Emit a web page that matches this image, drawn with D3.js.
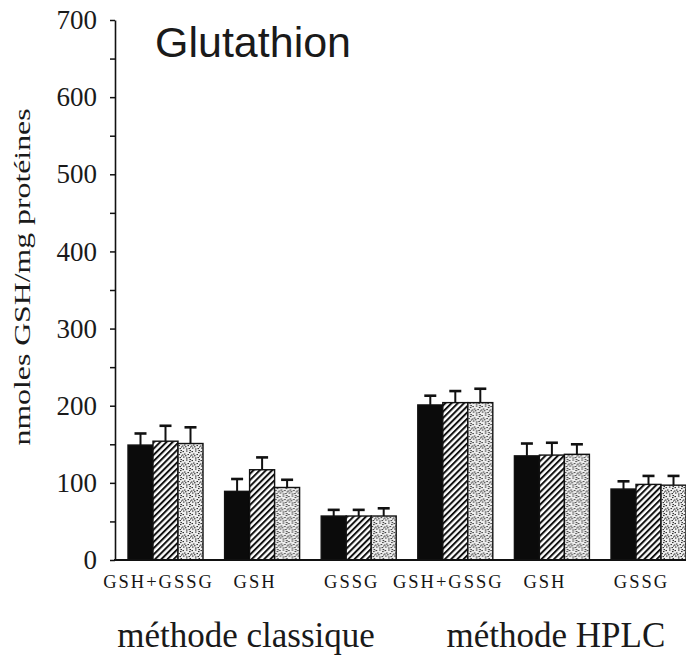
<!DOCTYPE html>
<html>
<head>
<meta charset="utf-8">
<script src="https://cdn.jsdelivr.net/npm/d3@7"></script>
<style>
  body { margin: 0; background: #fff; }
  svg { display: block; }
</style>
</head>
<body>
<svg id="chart" width="686" height="659"></svg>
<script>
// data (nmoles GSH / mg protéines)
const categories = ["GSH+GSSG", "GSH", "GSSG", "GSH+GSSG", "GSH", "GSSG"];
const groupMethod = [0, 0, 0, 1, 1, 1];
const methods = ["méthode classique", "méthode HPLC"];
const seriesNames = ["noir", "hachuré", "pointillé"];

const meanNoir = [149, 89, 57, 201, 135, 92];
const errNoir = [15, 16, 8, 12, 16, 10];
const meanHach = [154, 117, 57, 204, 136, 98];
const errHach = [20, 16, 8, 15, 16, 11];
const meanPoint = [151, 94, 57, 204, 137, 97];
const errPoint = [21, 10, 10, 18, 13, 12];

const yTicks = [0, 50, 100, 150, 200, 250, 300, 350, 400, 450, 500, 550, 600, 650, 700];

const means = [meanNoir, meanHach, meanPoint];
const errs = [errNoir, errHach, errPoint];

const svg = d3.select("#chart");
const defs = svg.append("defs");

// hatch "/" pattern
const hatch = defs.append("pattern")
  .attr("id", "hatch")
  .attr("patternUnits", "userSpaceOnUse")
  .attr("width", 4.4).attr("height", 4.4)
  .attr("patternTransform", "rotate(45)");
hatch.append("rect").attr("width", 4.4).attr("height", 4.4).attr("fill", "#fff");
hatch.append("rect").attr("width", 2).attr("height", 4.4).attr("fill", "#111");

// stipple pattern, fixed dot layout
const stip = defs.append("pattern")
  .attr("id", "stipple")
  .attr("patternUnits", "userSpaceOnUse")
  .attr("width", 9).attr("height", 9);
stip.append("rect").attr("width", 9).attr("height", 9).attr("fill", "#eeeeee");
const dots = [[0.5,1],[4,0.5],[7,2],[2,3.5],[5.5,4],[8,5.5],[1,6.5],[4,7.5],[6.5,7],[3,5.2],[7.5,0],[0,4.5]];
stip.selectAll("rect.d").data(dots).enter().append("rect")
  .attr("class", "d")
  .attr("x", d => d[0]).attr("y", d => d[1])
  .attr("width", 1.5).attr("height", 1.1)
  .attr("fill", "#333");

const fills = ["#0b0b0b", "url(#hatch)", "url(#stipple)"];

const y = d3.scaleLinear().domain([0, 700]).range([560, 20]);
const x = d3.scaleBand().domain(d3.range(categories.length)).range([128, 686]).paddingInner(0.2236);
const xs = d3.scaleBand().domain(d3.range(seriesNames.length)).range([0, x.bandwidth()]);

// y axis
const yAxis = svg.append("g")
  .attr("transform", "translate(115,0)")
  .call(d3.axisLeft(y).tickValues(yTicks)
    .tickFormat(d => d % 100 === 0 ? d : "")
    .tickSize(5).tickSizeOuter(0).tickPadding(13));
yAxis.select(".domain").attr("stroke", "#111").attr("stroke-width", 1.6);
yAxis.selectAll(".tick line").attr("stroke", "#111").attr("stroke-width", 1.5);
yAxis.selectAll(".tick text")
  .attr("fill", "#1a1a1a")
  .style("font-family", "'Liberation Serif', 'Times New Roman', serif")
  .style("font-size", "27px");

// bars
const groups = svg.append("g").selectAll("g.grp")
  .data(categories.map((c, i) => i))
  .enter().append("g")
  .attr("class", "grp")
  .attr("transform", i => `translate(${x(i)},0)`);

seriesNames.forEach((s, k) => {
  groups.append("rect")
    .attr("x", xs(k))
    .attr("y", i => y(means[k][i]))
    .attr("width", xs.bandwidth())
    .attr("height", i => y(0) - y(means[k][i]))
    .attr("fill", fills[k])
    .attr("stroke", "#111")
    .attr("stroke-width", 1.4);

  // error bars (upper only)
  groups.append("line")
    .attr("x1", xs(k) + xs.bandwidth() / 2)
    .attr("x2", xs(k) + xs.bandwidth() / 2)
    .attr("y1", i => y(means[k][i]))
    .attr("y2", i => y(means[k][i] + errs[k][i]))
    .attr("stroke", "#111").attr("stroke-width", 2);
  groups.append("line")
    .attr("x1", xs(k) + xs.bandwidth() / 2 - 6)
    .attr("x2", xs(k) + xs.bandwidth() / 2 + 6)
    .attr("y1", i => y(means[k][i] + errs[k][i]))
    .attr("y2", i => y(means[k][i] + errs[k][i]))
    .attr("stroke", "#111").attr("stroke-width", 2.6);
});

// x baseline
svg.append("line")
  .attr("x1", 114).attr("x2", 686)
  .attr("y1", y(0)).attr("y2", y(0))
  .attr("stroke", "#111").attr("stroke-width", 2);

// category labels
svg.append("g").selectAll("text")
  .data(categories)
  .enter().append("text")
  .attr("x", (d, i) => x(i) + x.bandwidth() / 2 - 7)
  .attr("y", 588)
  .attr("text-anchor", "middle")
  .attr("fill", "#151515")
  .style("font-family", "'Liberation Serif', 'Times New Roman', serif")
  .style("font-size", "18.5px")
  .style("letter-spacing", "2px")
  .text(d => d);

// method labels
const methodDx = [-16, 4];
svg.append("g").selectAll("text")
  .data(methods)
  .enter().append("text")
  .attr("x", (d, m) => {
    const idx = d3.range(categories.length).filter(i => groupMethod[i] === m);
    return d3.mean(idx, i => x(i) + x.bandwidth() / 2) + methodDx[m];
  })
  .attr("y", 647)
  .attr("text-anchor", "middle")
  .attr("fill", "#1a1a1a")
  .style("font-family", "'Liberation Serif', 'Times New Roman', serif")
  .style("font-size", "35px")
  .text(d => d);

// y label
svg.append("text")
  .attr("transform", "translate(30,277) rotate(-90)")
  .attr("text-anchor", "middle")
  .attr("textLength", 337)
  .attr("lengthAdjust", "spacingAndGlyphs")
  .attr("fill", "#1a1a1a")
  .style("font-family", "'Liberation Serif', 'Times New Roman', serif")
  .style("font-size", "23px")
  .text("nmoles GSH/mg protéines");

// title
svg.append("text")
  .attr("x", 155).attr("y", 57)
  .attr("fill", "#1a1a1a")
  .style("font-family", "'Liberation Sans', Arial, sans-serif")
  .style("font-size", "43px")
  .text("Glutathion");
</script>
</body>
</html>
